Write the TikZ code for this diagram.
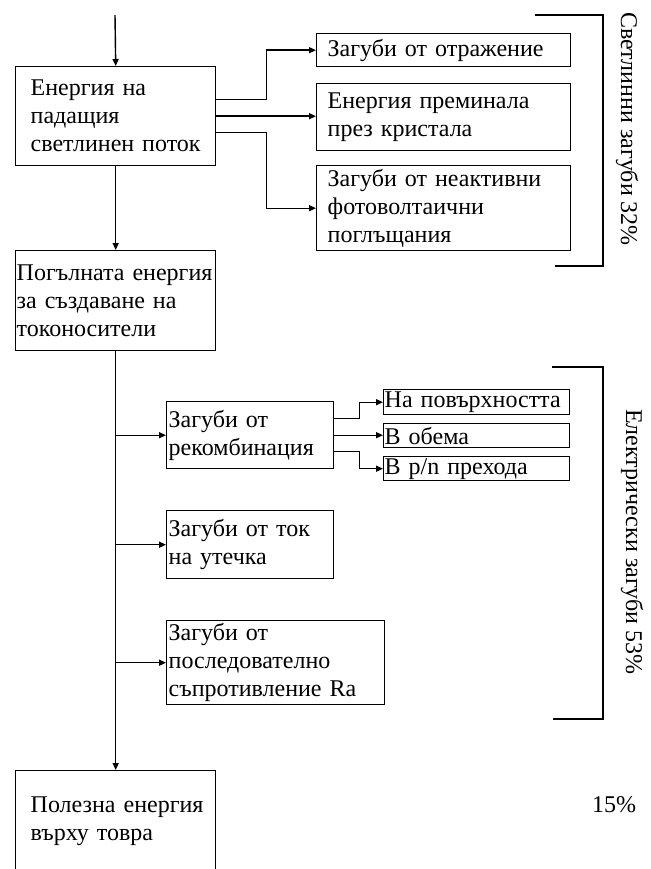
\documentclass[tikz,border=0pt]{standalone}
\usepackage{fontspec}
\setmainfont{Liberation Serif}
\usetikzlibrary{arrows.meta}
\begin{document}
\begin{tikzpicture}[
  x=1pt, y=-1pt,
  font=\fontsize{24}{28}\selectfont,
  blok/.style={draw,line width=1.4pt,anchor=north west,align=left,inner ysep=0pt},
  strelka/.style={line width=1.4pt,-{Triangle[length=7pt,width=6pt]}},
  skoba/.style={line width=1.4pt}
]
  \path[use as bounding box,fill=white] (0,0) rectangle (650,869);

  \coordinate (vhod) at (115,15);
  \node[blok,text width=170pt,inner xsep=15pt,minimum height=99pt] (b1) at (15,66)
    {Енергия на\\падащия\\светлинен поток};
  \node[blok,text width=232pt,inner xsep=11pt,minimum height=33pt] (r1) at (316,33)
    {Загуби от отражение};
  \node[blok,text width=232pt,inner xsep=11pt,minimum height=67pt] (r2) at (316,83)
    {Енергия преминала\\през кристала};
  \node[blok,text width=232pt,inner xsep=11pt,minimum height=85pt] (r3) at (316,165)
    {Загуби от неактивни\\фотоволтаични\\поглъщания};
  \node[blok,text width=198pt,inner xsep=1pt,minimum height=100pt] (b2) at (15,250)
    {Погълната енергия\\за създаване на\\токоносители};
  \node[blok,text width=163pt,inner xsep=2pt,minimum height=67pt] (k1) at (166,401)
    {Загуби от\\рекомбинация};
  \node[blok,text width=184pt,inner xsep=1pt,minimum height=25pt] (s1) at (383,389)
    {На повърхността};
  \node[blok,text width=184pt,inner xsep=1pt,minimum height=24pt] (s2) at (383,423)
    {В обема};
  \node[blok,text width=184pt,inner xsep=1pt,minimum height=24pt] (s3) at (383,456)
    {В p/n прехода};
  \node[blok,text width=163pt,inner xsep=2pt,minimum height=68pt] (k2) at (166,510)
    {Загуби от ток\\на утечка};
  \node[blok,text width=214pt,inner xsep=2pt,minimum height=84pt] (k3) at (166,620)
    {Загуби от\\последователно\\съпротивление Ra};
  \node[blok,text width=170pt,inner xsep=15pt,minimum height=102pt] (b3) at (15,770)
    {\mbox{Полезна енергия}\\върху товра};

  \node[rotate=-90] (l1) at (627,129) {Светлинни загуби 32\%};
  \node[rotate=-90] (l2) at (632,542) {Електрически загуби 53\%};
  \node (l3) at (614,805) {15\%};

  \draw[strelka] (vhod) -- (b1.north);
  \draw[strelka] ([yshift=16.5pt]b1.east) -- ++(50,0) |- (r1.west);
  \draw[strelka] (b1.east) -- (b1.east -| r2.west);
  \draw[strelka] ([yshift=-16.5pt]b1.east) -- ++(50,0) |- (r3.west);
  \draw[strelka] (b1.south) -- (b2.north);
  \draw[strelka] (b2.south) -- (b3.north);
  \draw[strelka] (b2.south |- k1.west) -- (k1.west);
  \draw[strelka] (b2.south |- k2.west) -- (k2.west);
  \draw[strelka] (b2.south |- k3.west) -- (k3.west);
  \draw[strelka] ([yshift=16.5pt]k1.east) -- ++(25,0) |- (s1.west);
  \draw[strelka] (k1.east) -- (k1.east -| s2.west);
  \draw[strelka] ([yshift=-16.5pt]k1.east) -- ++(25,0) |- (s3.west);

  \draw[skoba] (535,15) -| (603,266) -- (555,266);
  \draw[skoba] (552,367) -| (603,719) -- (553,719);
\end{tikzpicture}
\end{document}
